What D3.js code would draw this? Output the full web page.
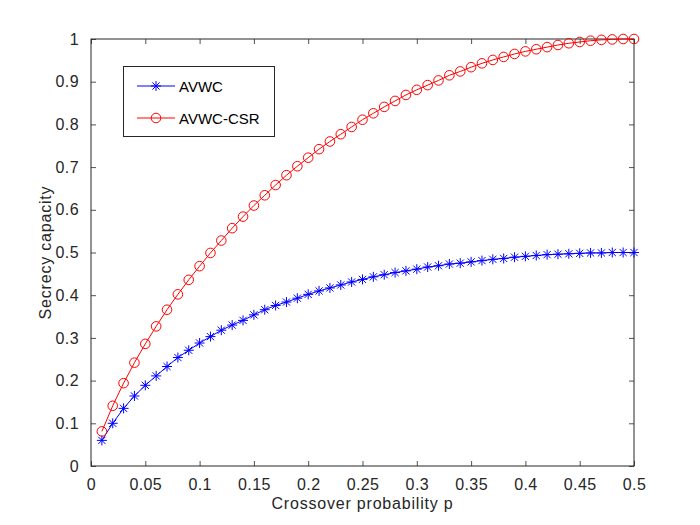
<!DOCTYPE html>
<html>
<head>
<meta charset="utf-8">
<script src="https://cdn.jsdelivr.net/npm/d3@7"></script>
<style>
  html, body { margin: 0; padding: 0; background: #fff; }
  svg { display: block; font-family: Arial, "Liberation Sans", Helvetica, sans-serif; }
</style>
</head>
<body>
<div id="chart"></div>
<script>
const pValues = [
  0.01, 0.02, 0.03, 0.04, 0.05, 0.06, 0.07, 0.08, 0.09, 0.10,
  0.11, 0.12, 0.13, 0.14, 0.15, 0.16, 0.17, 0.18, 0.19, 0.20,
  0.21, 0.22, 0.23, 0.24, 0.25, 0.26, 0.27, 0.28, 0.29, 0.30,
  0.31, 0.32, 0.33, 0.34, 0.35, 0.36, 0.37, 0.38, 0.39, 0.40,
  0.41, 0.42, 0.43, 0.44, 0.45, 0.46, 0.47, 0.48, 0.49, 0.50
];

// AVWC (blue, asterisks)
const avwc = [
  0.060, 0.100, 0.135, 0.164, 0.189, 0.211, 0.233, 0.254, 0.271, 0.288,
  0.303, 0.318, 0.330, 0.341, 0.354, 0.366, 0.376, 0.384, 0.393, 0.402,
  0.410, 0.417, 0.424, 0.431, 0.437, 0.443, 0.448, 0.453, 0.457, 0.461,
  0.466, 0.469, 0.473, 0.475, 0.478, 0.481, 0.484, 0.486, 0.489, 0.491,
  0.493, 0.495, 0.496, 0.497, 0.498, 0.499, 0.499, 0.500, 0.500, 0.500
];

// AVWC-CSR (red, circles)
const avwcCsr = [
  0.081, 0.141, 0.194, 0.242, 0.286, 0.327, 0.366, 0.402, 0.436, 0.468,
  0.499, 0.528, 0.557, 0.584, 0.610, 0.634, 0.658, 0.681, 0.702, 0.722,
  0.742, 0.760, 0.777, 0.794, 0.811, 0.826, 0.841, 0.855, 0.869, 0.881,
  0.892, 0.903, 0.915, 0.924, 0.934, 0.943, 0.951, 0.958, 0.965, 0.971,
  0.976, 0.981, 0.986, 0.990, 0.993, 0.996, 0.998, 0.999, 1.000, 1.000
];

const xTicks = [0, 0.05, 0.1, 0.15, 0.2, 0.25, 0.3, 0.35, 0.4, 0.45, 0.5];
const xTickLabels = ["0", "0.05", "0.1", "0.15", "0.2", "0.25", "0.3", "0.35", "0.4", "0.45", "0.5"];
const yTicks = [0, 0.1, 0.2, 0.3, 0.4, 0.5, 0.6, 0.7, 0.8, 0.9, 1];
const yTickLabels = ["0", "0.1", "0.2", "0.3", "0.4", "0.5", "0.6", "0.7", "0.8", "0.9", "1"];

const seriesNames = ["AVWC", "AVWC-CSR"];

const w = 700, h = 525;
const margin = { top: 39, right: 66, bottom: 59, left: 91 };
const axisColor = "#262626";

const svg = d3.select("#chart").append("svg")
  .attr("width", w)
  .attr("height", h);

const x = d3.scaleLinear()
  .domain([0, 0.5])
  .range([margin.left, w - margin.right]);

const y = d3.scaleLinear()
  .domain([0, 1])
  .range([h - margin.bottom, margin.top]);

function styleAxis(g, showLabels) {
  g.select(".domain").remove();
  g.selectAll(".tick line").attr("stroke", axisColor).attr("stroke-width", 0.8);
  g.selectAll(".tick text")
    .attr("fill", axisColor)
    .style("font-size", "16px")
    .style("letter-spacing", "0.4px");
  if (!showLabels) g.selectAll(".tick text").remove();
}

// axes (ticks inward, all four sides)
svg.append("g")
  .attr("transform", `translate(0,${h - margin.bottom})`)
  .call(d3.axisBottom(x).tickValues(xTicks)
    .tickFormat((d, i) => xTickLabels[i])
    .tickSizeInner(-5).tickSizeOuter(0).tickPadding(13))
  .call(g => styleAxis(g, true));

svg.append("g")
  .attr("transform", `translate(0,${margin.top})`)
  .call(d3.axisTop(x).tickValues(xTicks).tickSizeInner(-5).tickSizeOuter(0))
  .call(g => styleAxis(g, false));

svg.append("g")
  .attr("transform", `translate(${margin.left},0)`)
  .call(d3.axisLeft(y).tickValues(yTicks)
    .tickFormat((d, i) => yTickLabels[i])
    .tickSizeInner(-5).tickSizeOuter(0).tickPadding(12))
  .call(g => styleAxis(g, true));

svg.append("g")
  .attr("transform", `translate(${w - margin.right},0)`)
  .call(d3.axisRight(y).tickValues(yTicks).tickSizeInner(-5).tickSizeOuter(0))
  .call(g => styleAxis(g, false));

// box
svg.append("rect")
  .attr("x", margin.left)
  .attr("y", margin.top)
  .attr("width", w - margin.left - margin.right)
  .attr("height", h - margin.top - margin.bottom)
  .attr("fill", "none")
  .attr("stroke", axisColor)
  .attr("stroke-width", 1);

// markers
function asterisk(sel, color) {
  const r = 5, d = 3.6;
  const p = `M0,${-r}L0,${r}M${-r},0L${r},0M${-d},${-d}L${d},${d}M${-d},${d}L${d},${-d}`;
  sel.append("path").attr("d", p).attr("stroke", color).attr("stroke-width", 1).attr("fill", "none");
}
function circle(sel, color) {
  sel.append("circle").attr("r", 4.8).attr("stroke", color).attr("stroke-width", 1).attr("fill", "none");
}

const line = d3.line()
  .x(d => x(d.p))
  .y(d => y(d.v));

const series = [
  { name: seriesNames[0], color: "#0000ff", values: avwc, marker: asterisk },
  { name: seriesNames[1], color: "#ff0000", values: avwcCsr, marker: circle }
];

series.forEach(s => {
  const data = pValues.map((p, i) => ({ p: p, v: s.values[i] }));

  svg.append("path")
    .datum(data)
    .attr("fill", "none")
    .attr("stroke", s.color)
    .attr("stroke-width", 1)
    .attr("d", line);

  svg.selectAll(null)
    .data(data)
    .enter()
    .append("g")
    .attr("transform", d => `translate(${x(d.p)},${y(d.v)})`)
    .each(function () { s.marker(d3.select(this), s.color); });
});

// legend
const legend = svg.append("g");
legend.append("rect")
  .attr("x", 123.5).attr("y", 66.5)
  .attr("width", 151).attr("height", 70)
  .attr("fill", "#fff")
  .attr("stroke", axisColor)
  .attr("stroke-width", 1);

series.forEach((s, i) => {
  const ly = 86 + i * 32;
  const row = legend.append("g");
  row.append("line")
    .attr("x1", 137).attr("x2", 175)
    .attr("y1", ly).attr("y2", ly)
    .attr("stroke", s.color).attr("stroke-width", 1);
  const m = row.append("g").attr("transform", `translate(156,${ly})`);
  s.marker(m, s.color);
  row.append("text")
    .attr("x", 179)
    .attr("y", ly + 5.5)
    .attr("font-size", 15)
    .attr("fill", "#000")
    .text(s.name);
});

// axis labels
svg.append("text")
  .attr("x", (margin.left + w - margin.right) / 2)
  .attr("y", 509)
  .attr("text-anchor", "middle")
  .attr("fill", axisColor)
  .style("font-size", "16px")
  .style("letter-spacing", "0.8px")
  .text("Crossover probability p");

svg.append("text")
  .attr("transform", "rotate(-90)")
  .attr("x", -(margin.top + h - margin.bottom) / 2)
  .attr("y", 51)
  .attr("text-anchor", "middle")
  .attr("fill", axisColor)
  .style("font-size", "16px")
  .style("letter-spacing", "0.8px")
  .text("Secrecy capacity");
</script>
</body>
</html>
